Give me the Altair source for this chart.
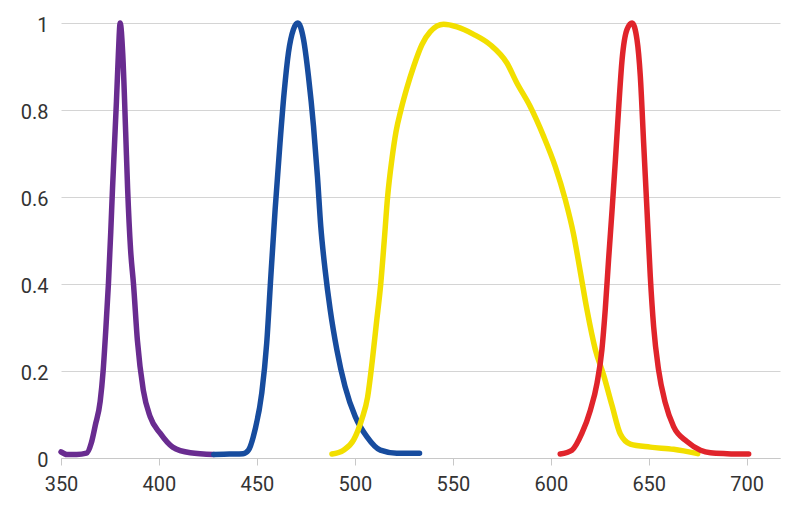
import altair as alt
import pandas as pd

# Wavelength (nm) / relative intensity
purple_wl = [350, 353, 358, 363, 365.5, 367.5, 370, 371.5, 372.8, 374.2, 375.4, 376.3, 377.3,
             378.3, 379.3, 380.2, 381.5, 383, 384, 385.5, 387, 389, 392, 395.5, 400.6, 407,
             416, 428]
purple_val = [0.014, 0.008, 0.008, 0.011, 0.035, 0.075, 0.13, 0.2, 0.29, 0.40, 0.52, 0.62, 0.72,
              0.82, 0.93, 1.0, 0.93, 0.75, 0.62, 0.48, 0.40, 0.27, 0.156, 0.095, 0.057, 0.025,
              0.012, 0.008]

blue_wl = [428, 436, 443, 445.7, 449, 452.5, 455, 457.1, 459.3, 461.8, 463.9, 466.1, 468.6,
           470.9, 473.8, 476.3, 478.9, 480.9, 482.6, 484.8, 487.4, 490.8, 495, 500.2, 506.1,
           513, 521.4, 533]
blue_val = [0.008, 0.009, 0.010, 0.018, 0.064, 0.15, 0.264, 0.417, 0.571, 0.725, 0.84, 0.932, 0.985,
            1.0, 0.962, 0.878, 0.762, 0.647, 0.532, 0.433, 0.341, 0.249, 0.164, 0.095, 0.049,
            0.018, 0.011, 0.011]

yellow_wl = [488.3, 494.2, 499.3, 503.6, 506.5, 508.8, 511, 513.2, 515, 516.7, 519, 521,
             523.5, 526.5, 530, 534.2, 538.5, 545.3, 552.1, 560.6, 569.1, 577.6, 582.7, 589.5,
             596.3, 602.3, 607.4, 611.6, 615, 618.5, 622.7, 627, 631.3, 635.5, 640.6, 650.8,
             662.7, 675]
yellow_val = [0.009, 0.018, 0.041, 0.09, 0.14, 0.22, 0.31, 0.4, 0.5, 0.6, 0.69, 0.75,
              0.8, 0.85, 0.9, 0.95, 0.98, 0.997, 0.991, 0.974, 0.95, 0.908, 0.862, 0.808,
              0.74, 0.67, 0.594, 0.515, 0.43, 0.34, 0.25, 0.19, 0.12, 0.055, 0.032, 0.025,
              0.02, 0.01]

red_wl = [604.8, 610.8, 615.9, 620.2, 623.6, 626.1, 627.8, 629.5, 631.3, 633, 634.6, 636.4,
          638.9, 641.5, 644, 645.7, 647.4, 649.1, 650.8, 652.5, 655, 658.5, 662.7, 669.5,
          676.4, 681.5, 690, 701]
red_val = [0.009, 0.018, 0.057, 0.11, 0.172, 0.249, 0.341, 0.456, 0.571, 0.686, 0.801, 0.916,
           0.985, 1.0, 0.962, 0.878, 0.724, 0.571, 0.417, 0.302, 0.203, 0.126, 0.072, 0.038,
           0.018, 0.012, 0.01, 0.009]

x_ticks = [350, 400, 450, 500, 550, 600, 650, 700]
y_ticks = [0, 0.2, 0.4, 0.6, 0.8, 1]

series = [
    ("purple", purple_wl, purple_val, "#692c90"),
    ("blue", blue_wl, blue_val, "#174c9e"),
    ("yellow", yellow_wl, yellow_val, "#f2df00"),
    ("red", red_wl, red_val, "#e0242b"),
]

FONT = "Roboto"
x_scale = alt.Scale(domain=[350, 717], nice=False, zero=False)
y_scale = alt.Scale(domain=[0, 1], nice=False)

x_axis = alt.Axis(values=x_ticks, format="d", title=None, grid=False,
                  labelFont=FONT, labelFontSize=20, labelColor="#333333",
                  domainColor="#c8c8c8", tickColor="#c8c8c8", tickSize=7,
                  labelPadding=9, labelFlush=False)
y_axis = alt.Axis(values=y_ticks, format="~g", title=None, grid=True,
                  gridColor="#d4d4d4", domain=False, ticks=False,
                  labelFont=FONT, labelFontSize=20, labelColor="#333333",
                  labelPadding=13, labelOffset=2, labelFlush=False)

layers = []
for name, wl, val, col in series:
    df = pd.DataFrame({"wavelength": wl, "value": val})
    layers.append(
        alt.Chart(df).mark_line(color=col, strokeWidth=5.5, interpolate="monotone",
                                strokeCap="round", strokeJoin="round").encode(
            x=alt.X("wavelength:Q", scale=x_scale, axis=x_axis),
            y=alt.Y("value:Q", scale=y_scale, axis=y_axis),
        )
    )

chart = alt.layer(*layers).properties(
    width=719, height=435,
    autosize=alt.AutoSizeParams(type="none"),
    padding={"left": 61, "top": 23, "right": 22, "bottom": 56},
    background="white",
).configure_view(stroke=None)

chart.save("out.html", embed_options={"renderer": "svg", "actions": False})
